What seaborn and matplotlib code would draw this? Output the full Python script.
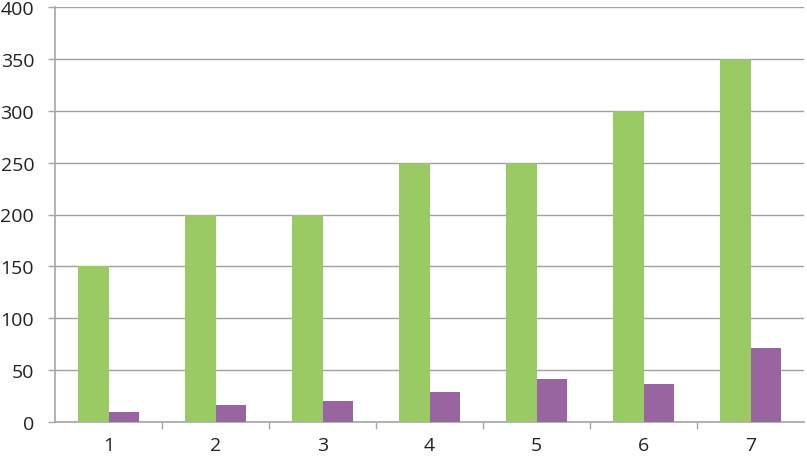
import seaborn as sns
import matplotlib.pyplot as plt
import pandas as pd

categories = ["1", "2", "3", "4", "5", "6", "7"]
series_a = [150, 200, 200, 250, 250, 300, 350]
series_b = [10, 16, 20, 29, 41, 37, 71]

df = pd.DataFrame({
    "cat": categories * 2,
    "value": series_a + series_b,
    "series": ["A"] * len(categories) + ["B"] * len(categories),
})

sns.set_style("white")
plt.rcParams["font.family"] = ["Open Sans", "DejaVu Sans"]

fig = plt.figure(figsize=(8.07, 4.60), dpi=100)
ax = fig.add_axes([55 / 807, 1 - 423 / 460, 749 / 807, 415 / 460])

sns.barplot(data=df, x="cat", y="value", hue="series", order=categories,
            palette=["#99CA63", "#9865A0"], width=0.57, gap=0,
            saturation=1, legend=False, ax=ax, zorder=3, linewidth=0)

ax.set_ylim(0, 400)
ax.set_xlim(-0.5, 6.5)
ax.set_yticks(range(0, 401, 50))
ax.yaxis.grid(True, color="#9F9F9F", linewidth=1, zorder=0)
ax.set_axisbelow(True)
ax.set_xlabel("")
ax.set_ylabel("")

for s in ["top", "right"]:
    ax.spines[s].set_visible(False)
for s in ["left", "bottom"]:
    ax.spines[s].set_color("#A6A6A6")
    ax.spines[s].set_linewidth(1.2)

ax.set_xticks([i + 0.5 for i in range(6)], minor=True)
ax.tick_params(axis="x", which="major", length=0, pad=10, labelsize=14, colors="#222222")
ax.tick_params(axis="x", which="minor", length=5, color="#A6A6A6", width=1, direction="out", bottom=True)
ax.tick_params(axis="y", length=5, color="#A6A6A6", width=1, left=True, pad=10, labelsize=14, colors="#222222")

fig.savefig("out.png", dpi=100)
